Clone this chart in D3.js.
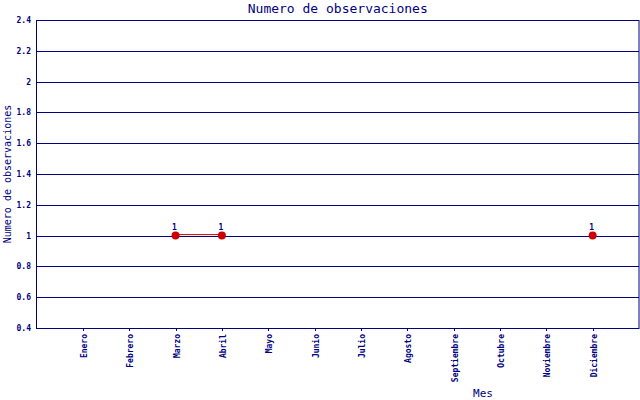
<!DOCTYPE html>
<html><head><meta charset="utf-8">
<script src="https://cdn.jsdelivr.net/npm/d3@7"></script>
<style>body{margin:0;background:#fff}svg{display:block}text{font-family:"DejaVu Sans Mono",monospace;fill:#000080}</style>
</head><body>
<script>
const months = ["Enero","Febrero","Marzo","Abril","Mayo","Junio","Julio","Agosto","Septiembre","Octubre","Noviembre","Diciembre"];
const values = [null,null,1,1,null,null,null,null,null,null,null,1];
const yTicks = [0.4,0.6,0.8,1,1.2,1.4,1.6,1.8,2,2.2,2.4];
const title = "Numero de observaciones";
const yTitle = "Numero de observaciones";
const xTitle = "Mes";

const W=640,H=400, L=36.5, R=639, T=20, B=328;
const navy="#000080", red="#cc0000";
const svg=d3.select("body").append("svg").attr("width",W).attr("height",H);
const x=d3.scaleLinear().domain([0,months.length+1]).range([L,R]);
const y=d3.scaleLinear().domain([0.4,2.4]).range([B,T]);

// grid
svg.append("g").selectAll("line").data(yTicks).join("line")
 .attr("x1",L).attr("x2",R).attr("y1",d=>Math.round(y(d))+0.5).attr("y2",d=>Math.round(y(d))+0.5)
 .attr("stroke",navy).attr("stroke-width",1);
// frame
svg.append("rect").attr("x",L).attr("y",T+0.5).attr("width",R-L).attr("height",B-T)
 .attr("fill","none").attr("stroke",navy);

// y labels
svg.append("g").selectAll("text").data(yTicks).join("text")
 .attr("x",31).attr("y",d=>Math.round(y(d))+3).attr("text-anchor","end")
 .attr("font-size",8).attr("font-weight","bold").text(d=>d3.format("~g")(d));

// x ticks
const xa=svg.append("g");
months.forEach((m,i)=>{
  const px=Math.round(x(i+1))+0.5;
  xa.append("line").attr("x1",px).attr("x2",px).attr("y1",B).attr("y2",B+3).attr("stroke",navy);
  xa.append("text").attr("transform",`translate(${px+3},${B+6}) rotate(-90)`)
   .attr("text-anchor","end").attr("font-size",8).attr("font-weight","bold").text(m);
});

// line segments (connect consecutive non-null)
const line=d3.line().defined(d=>d.v!=null).x(d=>x(d.i+1)).y(d=>y(d.v));
const pts=values.map((v,i)=>({v,i}));
svg.append("path").attr("d",line(pts)).attr("fill","none").attr("stroke",red).attr("stroke-width",1)
 .attr("transform","translate(0,-1)");
const valid=pts.filter(d=>d.v!=null);
svg.append("g").selectAll("circle").data(valid).join("circle")
 .attr("cx",d=>x(d.i+1)).attr("cy",d=>y(d.v)).attr("r",4).attr("fill",red);
svg.append("g").selectAll("text").data(valid).join("text")
 .attr("x",d=>x(d.i+1)-1).attr("y",d=>y(d.v)-6).attr("text-anchor","middle")
 .attr("font-size",8).attr("font-weight","bold").text(d=>d.v);

// titles
svg.append("text").attr("x",(L+R)/2).attr("y",13).attr("text-anchor","middle").attr("font-size",13).text(title);
svg.append("text").attr("transform",`translate(11,${(T+B)/2}) rotate(-90)`).attr("text-anchor","middle").attr("font-size",10).text(yTitle);
svg.append("text").attr("x",483).attr("y",397).attr("text-anchor","middle").attr("font-size",11).text(xTitle);
</script>
</body></html>
